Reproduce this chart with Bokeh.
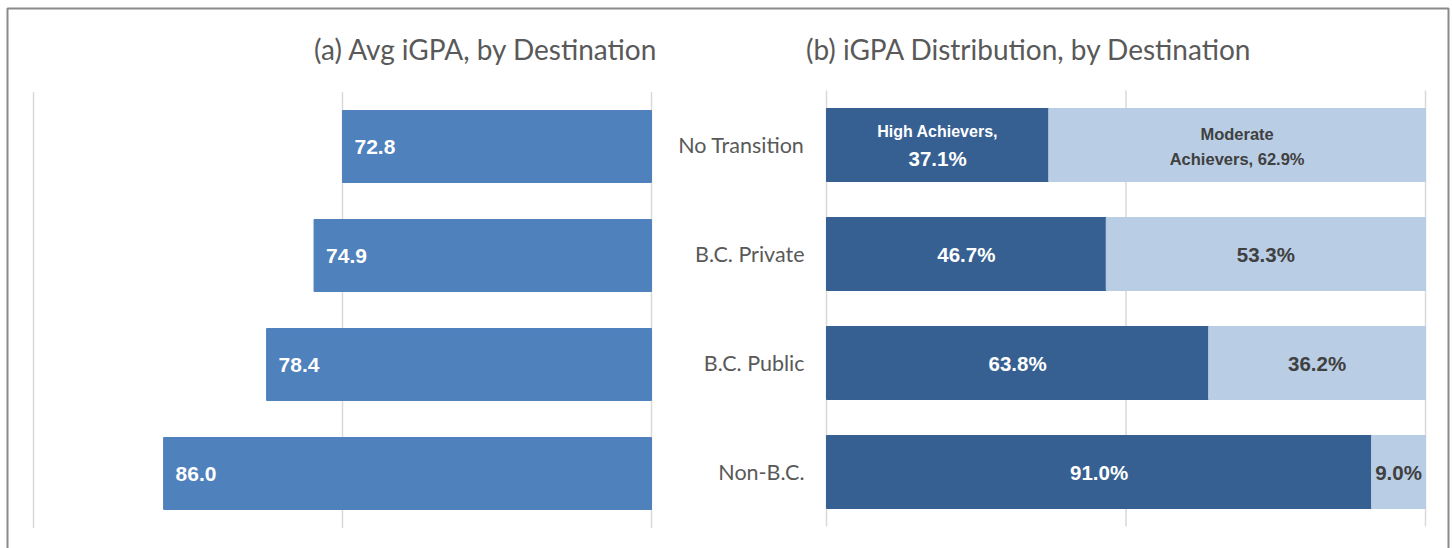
from bokeh.plotting import figure
from bokeh.models import Range1d
from bokeh.embed import file_html
from bokeh.resources import INLINE
from bokeh.core.properties import value

# ---------------- data ----------------
categories = ["No Transition", "B.C. Private", "B.C. Public", "Non-B.C."]
avg_igpa = [72.8, 74.9, 78.4, 86.0]
series_names = ["High Achievers", "Moderate Achievers"]
high_pct = [37.1, 46.7, 63.8, 91.0]
moderate_pct = [62.9, 53.3, 36.2, 9.0]
left_ticks = [50.0, 72.8, 95.6]
right_ticks = [0, 50, 100]
title_a = "(a) Avg iGPA, by Destination"
title_b = "(b) iGPA Distribution, by Destination"

# ---------------- layout helpers (page pixel coordinates) ----------------
W, H = 1452, 548
fx0, fx1 = 0, W
fy0, fy1 = 0, H


def span(va, pa, vb, pb, f0, f1):
    k = (pb - pa) / (vb - va)
    return va + (f0 - pa) / k, va + (f1 - pa) / k


AXIS_MIN = left_ticks[0]
lx0, lx1 = span(AXIS_MIN, 651, left_ticks[-1], 33, fx0, fx1)
rx0, rx1 = span(0, 826, 100, 1425, fx0, fx1)
ly_top, ly_bot = span(0, 146, 3, 473, fy0, fy1)
ry_top, ry_bot = span(0, 144.5, 3, 471.5, fy0, fy1)

idx = list(range(len(categories)))

p = figure(width=W, height=H, output_backend="svg", toolbar_location=None,
           x_range=Range1d(lx0, lx1), y_range=Range1d(ly_bot, ly_top),
           x_axis_location=None, y_axis_location=None,
           min_border_left=0, min_border_right=0,
           min_border_top=0, min_border_bottom=0)
p.extra_x_ranges = {"rb": Range1d(rx0, rx1), "px": Range1d(fx0, fx1)}
p.extra_y_ranges = {"rby": Range1d(ry_bot, ry_top), "py": Range1d(fy1, fy0)}
p.grid.visible = False
p.outline_line_color = None
p.background_fill_color = "white"
p.border_fill_color = "white"

# chart-area border (bottom edge lies below the visible window)
p.line(x=[7, 7, 1448, 1448], y=[H + 20, 8, 8, H + 20], line_color="#8A8A8A",
       line_width=2, x_range_name="px", y_range_name="py")

GRID = "#D9D9D9"
lo, hi = -0.5, len(categories) - 0.5

# gridlines
p.segment(x0=left_ticks, y0=[lo] * len(left_ticks), x1=left_ticks, y1=[hi] * len(left_ticks),
          line_color=GRID, line_width=1.5)
p.segment(x0=right_ticks, y0=[lo] * len(right_ticks), x1=right_ticks, y1=[hi] * len(right_ticks),
          line_color=GRID, line_width=1.5, x_range_name="rb", y_range_name="rby")

# left bars
p.hbar(y=idx, left=AXIS_MIN, right=avg_igpa, height=0.66, fill_color="#4F81BD",
       line_color="#4F81BD")
p.text(x=avg_igpa, y=idx, text=[f"{v:.1f}" for v in avg_igpa], x_offset=12,
       text_align="left", text_baseline="middle", text_color="white",
       text_font=value("Liberation Sans"), text_font_style="bold", text_font_size="21px")

# right stacked bars
DARK, LIGHT = "#366092", "#B9CDE5"
p.hbar(y=idx, left=0, right=high_pct, height=0.67, fill_color=DARK, line_color=DARK,
       x_range_name="rb", y_range_name="rby")
p.hbar(y=idx, left=high_pct, right=[h + m for h, m in zip(high_pct, moderate_pct)],
       height=0.67, fill_color=LIGHT, line_color=LIGHT,
       x_range_name="rb", y_range_name="rby")

common = dict(text_font=value("Liberation Sans"), text_font_style="bold",
              x_range_name="rb", y_range_name="rby", text_align="center",
              text_baseline="middle")
# rows 1..n: simple percentages
p.text(x=[h / 2 for h in high_pct[1:]], y=idx[1:], text=[f"{h:.1f}%" for h in high_pct[1:]],
       text_color="white", text_font_size="20.5px", **common)
p.text(x=[h + m / 2 for h, m in zip(high_pct[1:], moderate_pct[1:])], y=idx[1:],
       text=[f"{m:.1f}%" for m in moderate_pct[1:]],
       text_color="#404040", text_font_size="20.5px", **common)
# row 0: labels with series names
hx = high_pct[0] / 2
mx = high_pct[0] + moderate_pct[0] / 2
p.text(x=[hx], y=[idx[0]], text=[f"{series_names[0]},"], y_offset=-14,
       text_color="white", text_font_size="16px", **common)
p.text(x=[hx], y=[idx[0]], text=[f"{high_pct[0]:.1f}%"], y_offset=13.5,
       text_color="white", text_font_size="20.5px", **common)
w1, w2 = series_names[1].split(" ", 1)
p.text(x=[mx], y=[idx[0]], text=[w1], y_offset=-11,
       text_color="#404040", text_font_size="16.5px", **common)
p.text(x=[mx], y=[idx[0]], text=[f"{w2}, {moderate_pct[0]:.1f}%"], y_offset=13.5,
       text_color="#404040", text_font_size="16.5px", **common)

# category labels
p.text(x=[0] * len(categories), y=idx, text=categories, x_offset=-22,
       text_align="right", text_baseline="middle", text_color="#595959",
       text_font=value("Lato"), text_font_size="21.5px",
       x_range_name="rb", y_range_name="rby")

# titles
p.text(x=[485.5, 1028.5], y=[48.5, 48.5], text=[title_a, title_b],
       text_align="center", text_baseline="middle", text_color="#595959",
       text_font=value("Lato"), text_font_size="28px",
       x_range_name="px", y_range_name="py")

open("out.html", "w").write(file_html(p, INLINE))
